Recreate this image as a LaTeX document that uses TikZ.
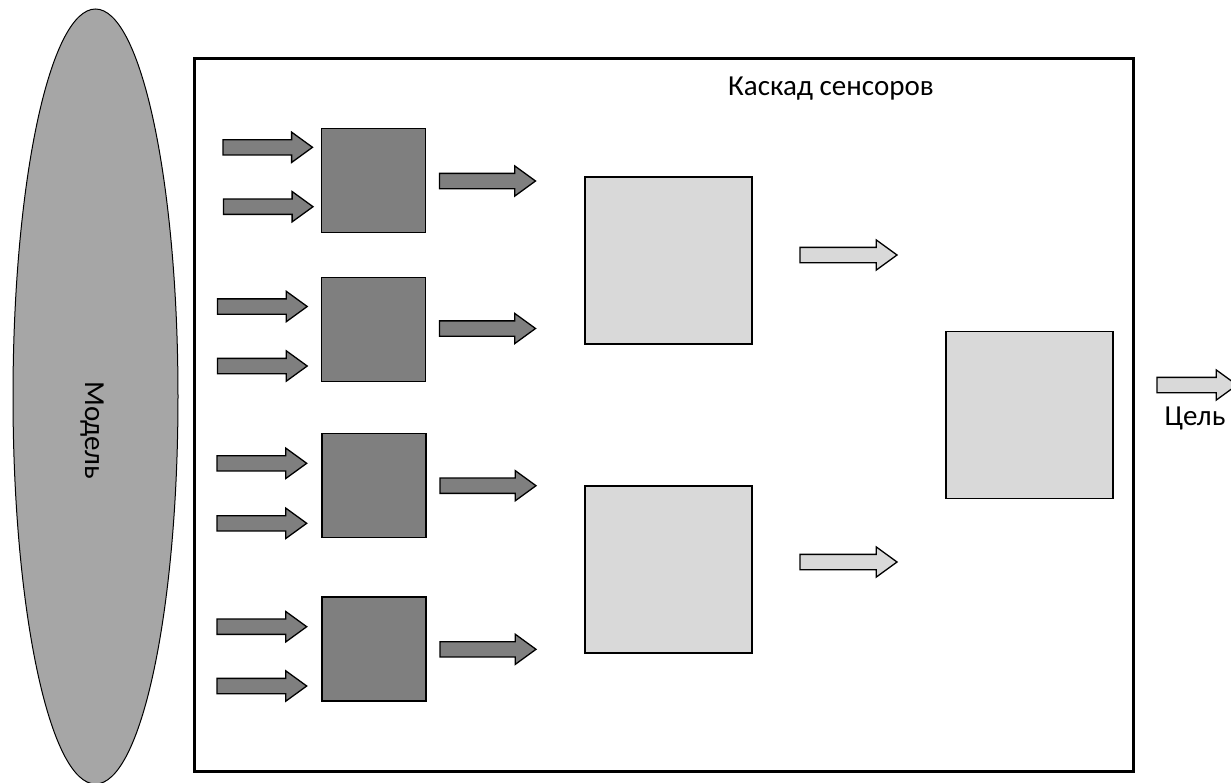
\documentclass[tikz,border=0pt]{standalone}
\usepackage{fontspec}
\setmainfont{Carlito}
\usetikzlibrary{shapes.arrows,shapes.geometric}

\definecolor{darkbox}{HTML}{7F7F7F}
\definecolor{lightbox}{HTML}{D9D9D9}
\definecolor{modelfill}{HTML}{A6A6A6}

\tikzset{
  sensor/.style={draw=black, line width=1.6pt, fill=darkbox, minimum width=104pt, minimum height=104pt, inner sep=0pt, outer sep=0pt},
  fusion/.style={draw=black, line width=1.6pt, fill=lightbox, minimum width=167pt, minimum height=167pt, inner sep=0pt, outer sep=0pt},
  blockarrow/.style={shape=single arrow, draw=black, line width=1.3pt, inner xsep=0pt, inner ysep=7pt,
    single arrow head extend=7.5pt, single arrow tip angle=72, minimum height=#1, anchor=tail, outer sep=0pt},
  darkarrow/.style={blockarrow=#1, fill=darkbox},
  lightarrow/.style={blockarrow=#1, fill=lightbox},
  txt/.style={font=\fontsize{29}{34}\selectfont, inner sep=0pt},
}

\begin{document}
\begin{tikzpicture}[x=1pt, y=-1pt]
  \useasboundingbox (0,0) rectangle (1231,782);

  % model
  \node (model) [draw=black, line width=1pt, fill=modelfill, ellipse, minimum width=165pt, minimum height=775pt, inner sep=0pt] at (95.5,396.5) {};
  \node (modeltext) [txt, rotate=-90, anchor=base] at (85,430) {Модель};

  % cascade frame
  \node (cascade) [draw=black, line width=3pt, minimum width=939pt, minimum height=713.5pt, inner sep=0pt] at (664,414.8) {};
  \node (title) [txt, anchor=base] at (831,95) {Каскад сенсоров};

  % first level sensors
  \node (s1) [sensor] at (373.3,180.3) {};
  \node (s2) [sensor] at (373.3,329.3) {};
  \node (s3) [sensor] at (373.7,485.3) {};
  \node (s4) [sensor] at (373.7,648.7) {};

  % inputs of the sensors
  \node (i1a) [darkarrow=89.5] at (223,147.3) {};
  \node (i1b) [darkarrow=89.5] at (223.5,206.7) {};
  \node (i2a) [darkarrow=89.7] at (217.5,306.5) {};
  \node (i2b) [darkarrow=89.7] at (217.5,366) {};
  \node (i3a) [darkarrow=89.7] at (217,463.3) {};
  \node (i3b) [darkarrow=89.7] at (217,523.3) {};
  \node (i4a) [darkarrow=89.7] at (217,626.7) {};
  \node (i4b) [darkarrow=89.7] at (217,686) {};

  % outputs of the sensors
  \node (o1) [darkarrow=96] at (439.5,181) {};
  \node (o2) [darkarrow=96] at (439.5,328.5) {};
  \node (o3) [darkarrow=96] at (440,485.7) {};
  \node (o4) [darkarrow=96] at (440,649.3) {};

  % second level
  \node (f1) [fusion] at (668.7,260.2) {};
  \node (f2) [fusion] at (668.7,569.5) {};
  \node (p1) [lightarrow=97] at (800,255) {};
  \node (p2) [lightarrow=97] at (800,562) {};

  % final level
  \node (f3) [fusion] at (1029.7,414.8) {};
  \node (goal) [lightarrow=80] at (1157,385) {};
  \node (goaltext) [txt, anchor=base] at (1195,425) {Цель};
\end{tikzpicture}
\end{document}
